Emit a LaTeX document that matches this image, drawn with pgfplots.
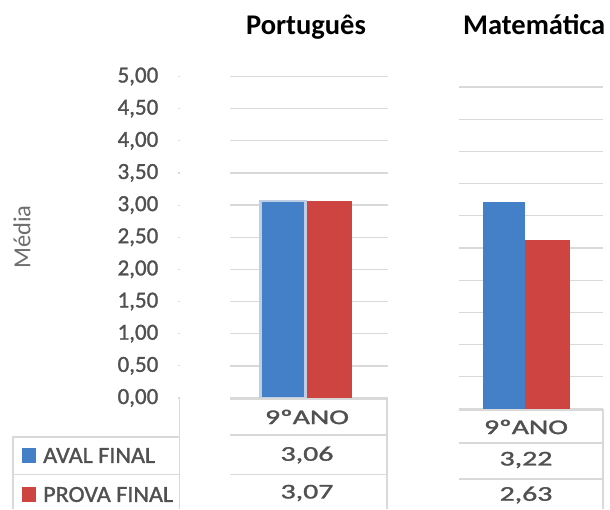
\documentclass[border=0pt]{standalone}
\usepackage{pgfplots}
\pgfplotsset{compat=1.18}
\usepackage{graphicx}
\usepackage{fontspec}
\setmainfont{Carlito}
\newfontfamily\heavy{Carlito}[FakeBold=1.2]
\definecolor{barblue}{RGB}{67,128,199}
\definecolor{barred}{RGB}{206,68,65}
\definecolor{selblue}{RGB}{190,206,228}
\definecolor{gridgray}{RGB}{217,217,217}
\definecolor{txtgray}{RGB}{80,80,80}
\definecolor{labgray}{RGB}{110,110,110}
\newcommand{\tabtxt}[1]{\scalebox{1.42}[1]{#1}}
\begin{document}
\begin{tikzpicture}[x=1pt,y=1pt]
\useasboundingbox (0,0) rectangle (610,509);
\fill[white] (0,0) rectangle (610,509);
% --- left: tick labels axis
\begin{axis}[
  at={(179.5pt,111pt)}, anchor=south west,
  scale only axis, width=208pt, height=321.5pt,
  xmin=0, xmax=1, ymin=0, ymax=5,
  axis x line=none, axis y line=left,
  y axis line style={draw=none},
  ytick={0,0.5,...,5},
  major tick length=2pt, tick align=outside,
  ytick style={draw=gridgray, line width=1.2pt},
  yticklabel style={anchor=east, inner sep=0pt, xshift=-19pt, text=txtgray,
    font=\heavy\fontsize{23}{25}\selectfont},
  /pgf/number format/.cd, fixed, fixed zerofill, precision=2, use comma, assume math mode=true,
]
\addplot[draw=none] coordinates {(0,0)};
\end{axis}
% --- left: plot area
\begin{axis}[
  at={(230pt,111pt)}, anchor=south west,
  scale only axis, width=158pt, height=321.5pt,
  xmin=230, xmax=388, ymin=0, ymax=5,
  axis line style={draw=none}, tick style={draw=none},
  xtick=\empty, ytick={0,0.5,...,5}, yticklabels={},
  ymajorgrids, grid style={draw=gridgray, line width=1.3pt},
  clip=false,
]
\addplot[ybar, bar shift=0pt, bar width=45, fill=barblue, draw=selblue, line width=2.5pt] coordinates {(283,3.06)};
\addplot[ybar, bar shift=0pt, bar width=45, fill=barred, draw=none] coordinates {(329.5,3.07)};
\end{axis}
% --- right: plot area
\begin{axis}[
  at={(459pt,100pt)}, anchor=south west,
  scale only axis, width=144pt, height=322pt,
  xmin=459, xmax=603, ymin=0, ymax=5,
  axis line style={draw=none}, tick style={draw=none},
  xtick=\empty, ytick={0,0.5,...,5}, yticklabels={},
  ymajorgrids, grid style={draw=gridgray, line width=1.3pt},
  clip=false,
]
\addplot[ybar, bar shift=0pt, bar width=42, fill=barblue, draw=none] coordinates {(504,3.22)};
\addplot[ybar, bar shift=0pt, bar width=45, fill=barred, draw=none] coordinates {(547.5,2.63)};
\end{axis}
% --- titles
\node[anchor=base, font=\fontsize{28.5}{32}\selectfont\bfseries] at (306,474) {Português};
\node[anchor=base west, inner sep=0pt, font=\fontsize{28.5}{32}\selectfont\bfseries] at (463,474) {Matemática};
% --- y label
\node[rotate=90, text=labgray, font=\fontsize{24.5}{27}\selectfont] at (22,272) {Média};
% --- left data table
\begin{scope}[draw=gridgray, line width=1.5pt]
\draw (230,110) -- (387,110) -- (387,0);
\draw (230,74) -- (387,74);
\draw (230,34.5) -- (387,34.5);
\draw (179.5,111) -- (179.5,0);
\draw (13,0) -- (13,72) -- (179.5,72);
\draw (13,34.5) -- (179.5,34.5);
% right table
\draw (459,99) -- (603,99) -- (603,0);
\draw (459,66) -- (603,66);
\draw (459,30) -- (603,30);
\end{scope}
\begin{scope}[every node/.style={text=txtgray, font=\heavy\fontsize{21}{24}\selectfont}]
\node at (307,92) {\tabtxt{9ºANO}};
\node at (307,54) {\tabtxt{3,06}};
\node at (307,16) {\tabtxt{3,07}};
\node at (526,82) {\tabtxt{9ºANO}};
\node at (526,49) {\tabtxt{3,22}};
\node at (526,14) {\tabtxt{2,63}};
\node[anchor=west, inner sep=0pt, font=\heavy\fontsize{23}{26}\selectfont] at (43,53.5) {\scalebox{1.05}[1]{AVAL FINAL}};
\node[anchor=west, inner sep=0pt, font=\heavy\fontsize{23}{26}\selectfont] at (43,14.5) {\scalebox{1.05}[1]{PROVA FINAL}};
\end{scope}
\fill[barblue] (22,46) rectangle (36,61);
\fill[barred] (22,7) rectangle (36,22);
\end{tikzpicture}
\end{document}
